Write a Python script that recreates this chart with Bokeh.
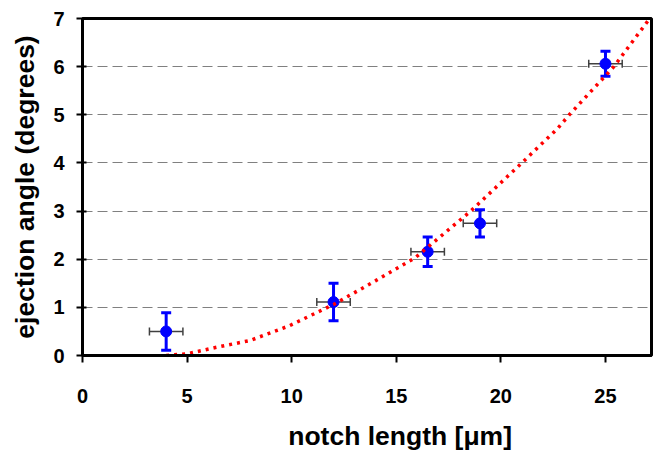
from bokeh.plotting import figure
from bokeh.models import FixedTicker
from bokeh.embed import file_html
from bokeh.resources import INLINE
import math

# Measured data points
notch_len = [4.0, 12.0, 16.5, 19.0, 25.0]
angle = [0.50, 1.11, 2.155, 2.745, 6.06]
angle_err = [0.39, 0.39, 0.305, 0.285, 0.26]
len_err = [0.8, 0.8, 0.8, 0.8, 0.8]

# Trend curve
curve_x = [4.0, 5.0, 6.4, 8.0, 9.9, 12.0, 14.0, 15.9, 18.56, 21.0, 22.7, 23.27, 25.4, 27.2]
curve_y = [0.0, 0.035, 0.17, 0.31, 0.62, 1.06, 1.55, 2.03, 3.0, 4.0, 4.71, 5.0, 6.0, 7.05]

x_ticks = [0, 5, 10, 15, 20, 25]
y_ticks = [0, 1, 2, 3, 4, 5, 6, 7]

FONT = "Liberation Sans"

p = figure(width=653, height=454, x_range=(0, 27.2), y_range=(0, 7),
           output_backend="svg", toolbar_location=None,
           min_border_left=82, min_border_right=2, min_border_top=18, min_border_bottom=99)

p.background_fill_color = "white"
p.border_fill_color = "white"
p.outline_line_color = "black"
p.outline_line_width = 3

p.xgrid.visible = False
p.ygrid.ticker = FixedTicker(ticks=y_ticks)
p.ygrid.grid_line_color = "#808080"
p.ygrid.grid_line_dash = "10 5"
p.ygrid.grid_line_width = 1

for ax in (p.xaxis[0], p.yaxis[0]):
    ax.axis_line_width = 3
    ax.axis_line_color = "black"
    ax.major_tick_line_color = "black"
    ax.major_tick_line_width = 2
    ax.minor_tick_line_color = None
    ax.major_label_text_font = FONT
    ax.major_label_text_font_style = "bold"
    ax.major_label_text_font_size = "20px"
    ax.major_label_text_color = "black"
    ax.axis_label_text_font = FONT
    ax.axis_label_text_font_style = "bold"
    ax.axis_label_text_font_size = "26.5px"
    ax.axis_label_text_color = "black"

p.xaxis.ticker = FixedTicker(ticks=x_ticks)
p.yaxis.ticker = FixedTicker(ticks=y_ticks)
p.xaxis.major_tick_in = 0
p.xaxis.major_tick_out = 7
p.yaxis.major_tick_in = 4
p.yaxis.major_tick_out = 6
p.xaxis.major_label_standoff = 26
p.yaxis.major_label_standoff = 12

p.yaxis.axis_label = "ejection angle (degrees)"
p.yaxis.axis_label_standoff = 10

# the reference's x label sits right of the frame centre: lead it with no-break spaces
p.xaxis.axis_label = "\u00a0" * 9 + "notch length [μm]"
p.xaxis.axis_label_standoff = 15

# horizontal error bars (gray, thin)
p.segment(x0=[a - e for a, e in zip(notch_len, len_err)], y0=angle,
          x1=[a + e for a, e in zip(notch_len, len_err)], y1=angle,
          line_color="#404040", line_width=1.5)
p.scatter(x=[a - e for a, e in zip(notch_len, len_err)] + [a + e for a, e in zip(notch_len, len_err)],
          y=angle + angle, marker="dash", angle=math.pi / 2, size=8,
          line_color="#404040", line_width=1.5)

# vertical error bars (blue, thick)
p.segment(x0=notch_len, y0=[a - e for a, e in zip(angle, angle_err)],
          x1=notch_len, y1=[a + e for a, e in zip(angle, angle_err)],
          line_color="#0000FF", line_width=3)
p.scatter(x=notch_len + notch_len,
          y=[a - e for a, e in zip(angle, angle_err)] + [a + e for a, e in zip(angle, angle_err)],
          marker="dash", size=10, line_color="#0000FF", line_width=3)

p.scatter(x=notch_len, y=angle, marker="circle", size=11,
          fill_color="#0000FF", line_color="#0000FF")

p.line(x=curve_x, y=curve_y, line_color="#FF0000", line_width=3.5, line_dash="3 5")

open("out.html", "w").write(file_html(p, INLINE))
